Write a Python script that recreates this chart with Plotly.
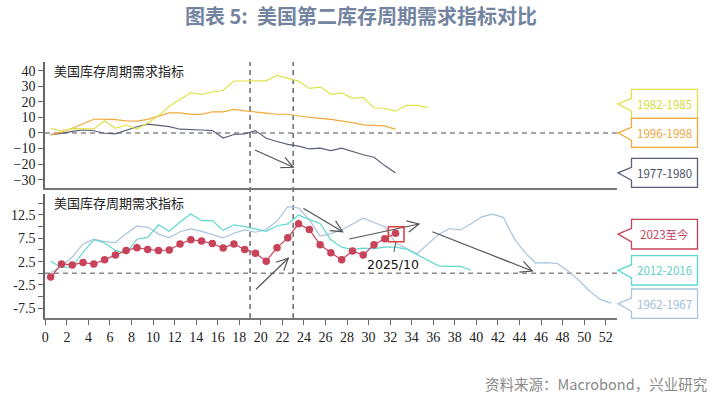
import math
import plotly.graph_objects as go

# ---------------- data ----------------
months = [0.5, 1.5, 2.5, 3.5, 4.5, 5.5, 6.5, 7.5, 8.5, 9.5, 10.5, 11.5, 12.5, 13.5,
          14.5, 15.5, 16.5, 17.5, 18.5, 19.5, 20.5, 21.5, 22.5, 23.5, 24.5, 25.5,
          26.5, 27.5, 28.5, 29.5, 30.5, 31.5, 32.5, 33.5, 34.5, 35.5, 36.5, 37.5,
          38.5, 39.5, 40.5, 41.5, 42.5, 43.5, 44.5, 45.5, 46.5, 47.5, 48.5, 49.5,
          50.5, 51.5, 52.5]

# top panel
s1982 = [3.0, 1.2, 2.8, 2.8, 2.6, 7.9, 3.0, 5.1, 2.5, 6.4, 11.0, 17.2, 21.8, 25.9,
         24.7, 26.3, 27.3, 33.4, 33.4, 33.4, 33.5, 37.0, 35.0, 33.3, 28.6, 29.5,
         24.8, 25.8, 22.2, 22.8, 16.2, 15.7, 14.0, 17.7, 17.7, 16.4]
s1996 = [-1.3, 0.5, 3.0, 5.8, 8.8, 8.9, 8.6, 7.7, 7.6, 8.7, 10.8, 12.9, 12.9, 11.9,
         11.9, 13.6, 13.6, 15.1, 14.2, 13.3, 12.8, 12.0, 12.0, 10.9, 10.0, 9.4,
         8.7, 7.7, 6.6, 5.2, 4.9, 4.5, 2.3]
s1977 = [-1.1, -0.3, 1.0, 1.9, 1.4, -0.2, -0.6, 1.9, 4.0, 5.7, 4.9, 4.1, 2.4, 2.3,
         1.9, 1.5, -3.3, -1.0, -0.6, 1.5, -3.4, -5.5, -7.3, -8.5, -10.3, -9.8,
         -11.4, -9.8, -12.0, -14.0, -15.6, -21.0, -25.7]

# bottom panel
s2023 = [-0.8, 2.0, 1.8, 2.3, 2.0, 2.9, 3.9, 4.9, 5.5, 5.1, 4.9, 5.0, 6.3, 7.2,
         6.9, 6.4, 5.4, 6.3, 5.1, 4.3, 2.6, 5.5, 7.6, 10.6, 9.4, 6.1, 4.4, 2.9,
         4.8, 3.9, 6.1, 7.4, 8.6]
s2012 = [2.6, 1.2, 1.4, 4.5, 7.2, 6.5, 4.9, 4.3, 7.3, 7.7, 10.4, 9.0, 11.0, 12.7,
         11.3, 11.3, 9.2, 10.4, 10.0, 9.5, 9.0, 10.2, 10.6, 12.5, 11.5, 10.7, 7.2,
         5.6, 5.1, 5.4, 5.3, 5.6, 5.6, 5.2, 4.0, 2.9, 1.6, 1.5, 1.5, 0.7]
s1962 = [0.1, 1.5, 3.5, 6.3, 7.3, 6.8, 6.6, 8.5, 10.1, 9.9, 8.4, 7.6, 8.9, 9.5,
         9.0, 8.3, 7.6, 8.6, 9.3, 8.8, 9.4, 11.2, 14.3, 14.0, 11.5, 8.0, 8.5, 9.3,
         10.6, 11.8, 10.9, 10.0, 6.5, 5.3, 4.2, 6.3, 8.3, 9.6, 9.3, 10.6, 12.1,
         12.7, 12.0, 7.5, 4.5, 2.2, 2.3, 2.1, 0.5, -1.5, -3.8, -5.6, -6.4]

x_ticks = [0, 2, 4, 6, 8, 10, 12, 14, 16, 18, 20, 22, 24, 26, 28, 30, 32, 34, 36,
           38, 40, 42, 44, 46, 48, 50, 52]
top_ticks = [40, 30, 20, 10, 0, -10, -20, -30]
bot_ticks = [15, 12.5, 10, 7.5, 5, 2.5, 0, -2.5, -5, -7.5]
bot_ticktext = ["", "12.5", "", "7.5", "", "2.5", "", "-2.5", "", "-7.5"]
vlines = [19, 23]

top_labels = ["1982-1985", "1996-1998", "1977-1980"]
bot_labels = ["2023至今", "2012-2016", "1962-1967"]

# ---------------- colours / layout constants ----------------
C1982 = "#dfe24c"
C1996 = "#f2a93b"
C1977 = "#5a5f78"
C2023 = "#c8435a"
C2012 = "#5fd9cf"
C1962 = "#a9c4dc"

W, H = 728, 396
ML, MR, MT, MB = 45, 111, 62, 78
PW = W - ML - MR
PH = H - MT - MB


def px(x):
    return (x - ML) / PW


def py(y):
    return (H - MB - y) / PH


fig = go.Figure()

line_w = 1.2
fig.add_trace(go.Scatter(x=months[:len(s1977)], y=s1977, mode="lines",
                         line=dict(color=C1977, width=line_w), xaxis="x", yaxis="y"))
fig.add_trace(go.Scatter(x=months[:len(s1996)], y=s1996, mode="lines",
                         line=dict(color=C1996, width=line_w), xaxis="x", yaxis="y"))
fig.add_trace(go.Scatter(x=months[:len(s1982)], y=s1982, mode="lines",
                         line=dict(color=C1982, width=line_w), xaxis="x", yaxis="y"))

fig.add_trace(go.Scatter(x=months[:len(s1962)], y=s1962, mode="lines",
                         line=dict(color=C1962, width=line_w), xaxis="x2", yaxis="y2"))
fig.add_trace(go.Scatter(x=months[:len(s2012)], y=s2012, mode="lines",
                         line=dict(color=C2012, width=line_w), xaxis="x2", yaxis="y2"))
fig.add_trace(go.Scatter(x=months[:len(s2023)], y=s2023, mode="lines+markers",
                         line=dict(color=C2023, width=line_w),
                         marker=dict(color=C2023, size=7.5), xaxis="x2", yaxis="y2"))

top_dom = [py(187.7), 1.0]
bot_dom = [0.0, py(194)]
xr = [-0.03, 53.05]
tickfont = dict(family="Liberation Serif", size=14, color="#222")

fig.update_layout(
    width=W, height=H, showlegend=False,
    paper_bgcolor="white", plot_bgcolor="white",
    margin=dict(l=ML, r=MR, t=MT, b=MB),
    xaxis=dict(domain=[0, 1], anchor="y", range=xr, showgrid=False, zeroline=False,
               showline=True, linecolor="#777", linewidth=2, showticklabels=False,
               ticks=""),
    yaxis=dict(domain=top_dom, anchor="x", range=[-35.2, 45.6], showgrid=False,
               zeroline=False, showline=True, linecolor="#666", linewidth=1.5,
               tickvals=top_ticks, ticks="outside", ticklen=5, tickcolor="#666",
               tickfont=tickfont),
    xaxis2=dict(domain=[0, 1], anchor="y2", range=xr, showgrid=False, zeroline=False,
                showline=True, linecolor="#777", linewidth=2, tickvals=x_ticks,
                ticks="outside", ticklen=5, tickcolor="#666", tickfont=tickfont),
    yaxis2=dict(domain=bot_dom, anchor="x2", range=[-9.58, 17.0], showgrid=False,
                zeroline=False, showline=True, linecolor="#666", linewidth=1.5,
                tickvals=bot_ticks, ticktext=bot_ticktext, ticks="outside",
                ticklen=5, tickcolor="#666", tickfont=tickfont),
)

shapes = []
# zero dashed lines
for yref in ["y", "y2"]:
    shapes.append(dict(type="line", xref="paper", yref=yref, x0=0, x1=1, y0=0, y1=0,
                       line=dict(color="#8a8a8a", width=1.5, dash="5px,4px"), layer="below"))
# vertical dashed lines through both panels
for v in vlines:
    shapes.append(dict(type="line", xref="x", yref="paper", x0=v, x1=v, y0=0, y1=1,
                       line=dict(color="#6a6a6a", width=1.5, dash="5px,4px"), layer="below"))


def arrow(x0, y0, x1, y1, color="#555", head=13, ang=26):
    shapes.append(dict(type="line", xref="paper", yref="paper",
                       x0=px(x0), y0=py(y0), x1=px(x1), y1=py(y1),
                       line=dict(color=color, width=1.2)))
    a = math.atan2(y1 - y0, x1 - x0)
    pts = []
    for s in (-1, 1):
        b = a + math.pi + s * math.radians(ang)
        pts.append((x1 + head * math.cos(b), y1 + head * math.sin(b)))
    path = "M {:.5f},{:.5f} L {:.5f},{:.5f} L {:.5f},{:.5f}".format(
        px(pts[0][0]), py(pts[0][1]), px(x1), py(y1), px(pts[1][0]), py(pts[1][1]))
    shapes.append(dict(type="path", xref="paper", yref="paper", path=path,
                       line=dict(color=color, width=1.2)))


arrow(255, 150, 293.3, 167.3)
arrow(256, 289.3, 288.3, 258.3)
arrow(303.3, 208.3, 342.7, 231.7)
arrow(349.3, 239, 419, 224)
arrow(432.3, 231.7, 532.3, 271)

# red box around latest point + leader
shapes.append(dict(type="rect", xref="paper", yref="paper",
                   x0=px(388.3), x1=px(404), y0=py(241.7), y1=py(226.7),
                   line=dict(color="#e03a3a", width=1.5)))
shapes.append(dict(type="line", xref="paper", yref="paper",
                   x0=px(395.7), y0=py(242.5), x1=px(394), y1=py(252),
                   line=dict(color="#555", width=1)))


def callout(top, bottom, color):
    left, right, tip = 631.5, 697.5, 618.0
    mid = (top + bottom) / 2
    n = 9
    pts = [(left, top), (right, top), (right, bottom), (left, bottom),
           (left, bottom - n + 2), (tip, mid), (left, top + n)]
    path = "M " + " L ".join("{:.5f},{:.5f}".format(px(a), py(b)) for a, b in pts) + " Z"
    shapes.append(dict(type="path", xref="paper", yref="paper", path=path,
                       fillcolor="white", line=dict(color=color, width=1.3)))
    return mid


annotations = []
boxes = [
    (89.3, 118.3, C1982, "#d5dc3a", top_labels[0]),
    (118.3, 147.3, C1996, "#f0a640", top_labels[1]),
    (158.3, 187.3, C1977, "#4a5068", top_labels[2]),
    (219.3, 249.0, C2023, "#c0405a", bot_labels[0]),
    (255.7, 285.0, C2012, "#5fd0c8", bot_labels[1]),
    (289.0, 318.3, C1962, "#a3bdd6", bot_labels[2]),
]
for top, bottom, lc, tc, txt in boxes:
    mid = callout(top, bottom, lc)
    annotations.append(dict(x=px(664.5), y=py(mid), xref="paper", yref="paper",
                            text=txt, showarrow=False, xanchor="center", yanchor="middle",
                            font=dict(family="Noto Sans CJK SC", size=11.5, color=tc)))

# panel labels
for yy in (70.7, 202.5):
    annotations.append(dict(x=px(52), y=py(yy), xref="paper", yref="paper",
                            text="美国库存周期需求指标", showarrow=False,
                            xanchor="left", yanchor="middle",
                            font=dict(family="Noto Sans CJK SC", size=13, color="#222")))

annotations.append(dict(x=px(393), y=py(264.5), xref="paper", yref="paper",
                        text="2025/10", showarrow=False, xanchor="center", yanchor="middle",
                        font=dict(family="DejaVu Sans", size=12.5, color="#111")))

# title
annotations.append(dict(x=px(360.5), y=py(15), xref="paper", yref="paper",
                        text="<b>图表 5:  美国第二库存周期需求指标对比</b>", showarrow=False,
                        xanchor="center", yanchor="middle",
                        font=dict(family="Noto Sans CJK SC", size=20, color="#7384a0")))
# source
annotations.append(dict(x=px(709), y=py(383), xref="paper", yref="paper",
                        text="资料来源：Macrobond，兴业研究", showarrow=False,
                        xanchor="right", yanchor="middle",
                        font=dict(family="Noto Sans CJK SC", size=14.5, color="#8a8a8a")))

fig.update_layout(shapes=shapes, annotations=annotations)
fig.write_html("out.html", config={"displayModeBar": False})

# remove default page margin so the figure sits at the window origin
with open("out.html", "r", encoding="utf-8") as f:
    html = f.read()
html = html.replace("<head>", "<head><style>html,body{margin:0;padding:0;overflow:hidden;}</style>", 1)
with open("out.html", "w", encoding="utf-8") as f:
    f.write(html)
